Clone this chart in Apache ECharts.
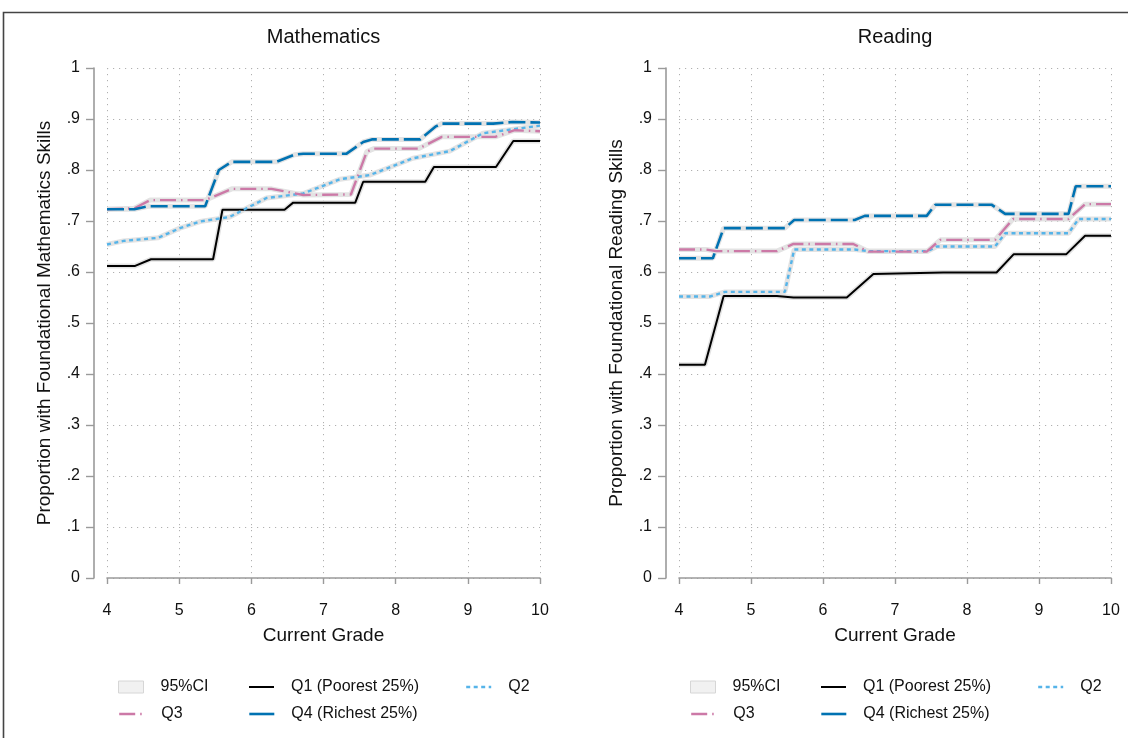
<!DOCTYPE html>
<html>
<head>
<meta charset="utf-8">
<script src="https://cdn.jsdelivr.net/npm/echarts@6/dist/echarts.min.js"></script>
<style>
html,body{margin:0;padding:0;background:#fff;}
#c{width:1128px;height:738px;}
</style>
</head>
<body>
<div id="c"></div>
<script>
// ---- Data (grade, proportion) ----
const panelTitles = ['Mathematics', 'Reading'];
const yTitles = ['Proportion with Foundational Mathematics Skills', 'Proportion with Foundational Reading Skills'];
const xTitle = 'Current Grade';
const seriesNames = ['Q1 (Poorest 25%)', 'Q2', 'Q3', 'Q4 (Richest 25%)'];
const ciName = '95%CI';

const mathQ1 = [[4,0.612],[4.39,0.612],[4.61,0.625],[5.47,0.625],[5.6,0.722],[6.46,0.722],[6.58,0.736],[7.44,0.736],[7.55,0.777],[8.41,0.777],[8.53,0.806],[9.39,0.806],[9.63,0.857],[10,0.857]];
const mathQ2 = [[4,0.654],[4.23,0.661],[4.71,0.667],[5.01,0.686],[5.29,0.699],[5.7,0.708],[6.21,0.745],[6.72,0.754],[7.23,0.782],[7.64,0.790],[8.24,0.823],[8.75,0.837],[9.21,0.872],[9.63,0.880],[10,0.887]];
const mathQ3 = [[4,0.723],[4.38,0.725],[4.6,0.741],[5.36,0.741],[5.73,0.763],[6.28,0.763],[6.72,0.751],[7.38,0.752],[7.6,0.836],[7.7,0.842],[8.32,0.842],[8.64,0.865],[9.38,0.865],[9.65,0.878],[10,0.876]];
const mathQ4 = [[4,0.723],[4.38,0.723],[4.57,0.729],[5.36,0.729],[5.55,0.800],[5.73,0.816],[6.35,0.816],[6.6,0.830],[6.72,0.832],[7.32,0.832],[7.55,0.855],[7.67,0.860],[8.34,0.860],[8.55,0.885],[8.64,0.891],[9.35,0.891],[9.62,0.894],[10,0.893]];

const readQ1 = [[4,0.418],[4.36,0.418],[4.62,0.553],[5.36,0.553],[5.59,0.550],[6.33,0.550],[6.70,0.596],[7.67,0.599],[8.41,0.599],[8.65,0.635],[9.38,0.635],[9.64,0.671],[10,0.671]];
const readQ2 = [[4,0.552],[4.43,0.552],[4.64,0.561],[5.47,0.561],[5.60,0.644],[6.44,0.644],[6.63,0.641],[7.46,0.641],[7.58,0.650],[8.39,0.650],[8.53,0.676],[9.41,0.676],[9.55,0.704],[10,0.704]];
const readQ3 = [[4,0.644],[4.38,0.644],[4.52,0.641],[5.36,0.641],[5.59,0.655],[6.42,0.655],[6.63,0.640],[7.44,0.640],[7.63,0.663],[8.39,0.663],[8.64,0.704],[9.41,0.704],[9.64,0.733],[10,0.733]];
const readQ4 = [[4,0.627],[4.47,0.627],[4.62,0.686],[5.47,0.686],[5.60,0.702],[6.44,0.702],[6.58,0.710],[7.44,0.710],[7.56,0.732],[8.34,0.732],[8.53,0.714],[9.41,0.714],[9.51,0.768],[10,0.768]];

const xTicks = [4, 5, 6, 7, 8, 9, 10];
const yTickLabels = ['0', '.1', '.2', '.3', '.4', '.5', '.6', '.7', '.8', '.9', '1'];

// ---- Styles ----
const panels = [[mathQ1, mathQ2, mathQ3, mathQ4], [readQ1, readQ2, readQ3, readQ4]];
const colors = ['#000000', '#56b4e9', '#cc79a7', '#0072b2'];
const dashes = ['solid', [4, 3.5], [16, 5, 1.5, 5], [17, 5]];
const legendDashes = ['solid', [4, 3.5], [16, 5, 1.5, 5], 'solid'];
const widths = [2, 2.4, 2.4, 2.6];
const FONT = '"Liberation Sans", Arial, Helvetica, sans-serif';

const gridsPos = [
  { left: 107, width: 433, top: 68, height: 510 },
  { left: 679, width: 432, top: 68, height: 510 }
];

const grid = gridsPos.map(g => Object.assign({ containLabel: false }, g));

const xAxis = gridsPos.map((g, i) => ({
  type: 'value', gridIndex: i, min: xTicks[0], max: xTicks[xTicks.length - 1], interval: 1,
  offset: 14,
  name: xTitle, nameLocation: 'middle', nameGap: 34,
  nameTextStyle: { fontFamily: FONT, fontSize: 19, color: '#111' },
  axisLine: { show: true, lineStyle: { color: '#9a9a9a', width: 1.6 } },
  axisTick: { show: true, length: 6, lineStyle: { color: '#9a9a9a', width: 1.4 } },
  axisLabel: { fontFamily: FONT, fontSize: 16, color: '#111', margin: 11 },
  splitLine: { show: true, lineStyle: { color: '#b0b0b0', type: [1.2, 4.8], width: 1 } }
}));

const yAxis = gridsPos.map((g, i) => ({
  type: 'value', gridIndex: i, min: 0, max: 1, interval: 0.1,
  offset: 13,
  name: yTitles[i], nameLocation: 'middle', nameGap: 40, nameRotate: 90,
  nameTextStyle: { fontFamily: FONT, fontSize: 19, color: '#111' },
  axisLine: { show: true, lineStyle: { color: '#9a9a9a', width: 1.6 } },
  axisTick: { show: true, length: 8, lineStyle: { color: '#9a9a9a', width: 1.4 } },
  axisLabel: {
    fontFamily: FONT, fontSize: 16, color: '#111', margin: 14,
    formatter: v => yTickLabels[Math.round(v * 10)]
  },
  splitLine: { show: true, lineStyle: { color: '#b0b0b0', type: [1.2, 4.8], width: 1 } }
}));

const series = [];
panels.forEach((lines, p) => {
  // CI underlays
  lines.forEach(d => {
    series.push({
      name: ciName, type: 'line', xAxisIndex: p, yAxisIndex: p, data: d,
      symbol: 'none', silent: true, z: 1,
      itemStyle: { color: '#ececec' },
      lineStyle: { color: '#e3e3e3', width: 5 }
    });
  });
  lines.forEach((d, k) => {
    series.push({
      name: seriesNames[k], type: 'line', xAxisIndex: p, yAxisIndex: p, data: d,
      symbol: 'none', z: 3 + k,
      itemStyle: { color: colors[k] },
      lineStyle: { color: colors[k], width: widths[k], type: dashes[k] }
    });
  });
});

// legend layout: rows/cols per panel
const legendItems = [ciName, seriesNames[0], seriesNames[1], seriesNames[2], seriesNames[3]];
const legendCols = [[118, 248, 465], [690, 820, 1037]];
const legendSlots = [[0, 0], [0, 1], [0, 2], [1, 0], [1, 1]]; // [row, col]
const legendRowTop = [679, 706];
const legend = [];
legendCols.forEach(cols => {
  legendItems.forEach((nm, j) => {
    const [r, c] = legendSlots[j];
    const k = seriesNames.indexOf(nm);
    const dataItem = nm === ciName
      ? { name: nm, icon: 'rect', itemStyle: { color: '#f1f1f1', borderColor: '#d6d6d6', borderWidth: 1, opacity: 1 } }
      : { name: nm, lineStyle: { color: colors[k], width: widths[k], type: legendDashes[k] } };
    legend.push({
      left: cols[c], top: legendRowTop[r], orient: 'horizontal',
      itemWidth: 25, itemHeight: 12, padding: 0, selectedMode: false,
      itemStyle: { opacity: 0, color: 'rgba(0,0,0,0)', borderWidth: 0 },
      data: [dataItem],
      textStyle: { fontFamily: FONT, fontSize: 16, color: '#111', padding: [0, 0, 0, 12] }
    });
  });
});

const title = panelTitles.map((t, i) => ({
  text: t, left: gridsPos[i].left + gridsPos[i].width / 2, top: 27, textAlign: 'center', padding: 0,
  textStyle: { fontFamily: FONT, fontSize: 20, fontWeight: 'normal', color: '#111' }
}));

const chart = echarts.init(document.getElementById('c'), null, { renderer: 'canvas' });
chart.setOption({
  animation: false,
  backgroundColor: '#fff',
  title, grid, xAxis, yAxis, series, legend,
  graphic: [{
    type: 'polyline', silent: true,
    shape: { points: [[3.5, 738], [3.5, 12.5], [1128, 12.5]] },
    style: { stroke: '#444', lineWidth: 1.6, fill: null }
  }]
});
</script>
</body>
</html>
